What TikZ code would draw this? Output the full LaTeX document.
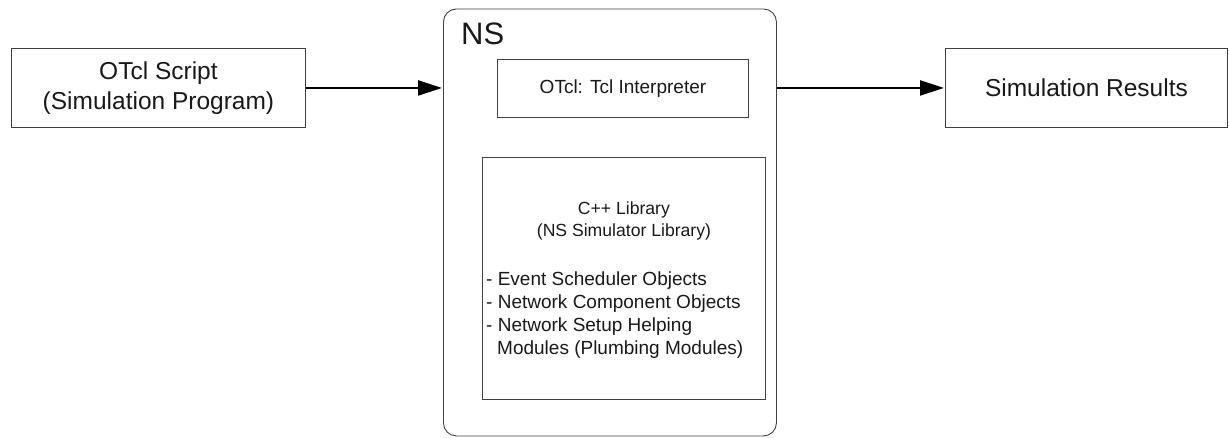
\documentclass[tikz,border=0pt]{standalone}
\usepackage{fontspec}
\setmainfont{Liberation Sans}
\usetikzlibrary{arrows.meta}
\begin{document}
\begin{tikzpicture}[x=1pt,y=-1pt,
  box/.style={draw=black!75,line width=0.9pt,inner sep=0pt},
  conn/.style={draw=black,line width=2.2pt,-{Triangle[length=24pt,width=15pt]},shorten >=1pt},
  txt/.style={text=black!90,inner sep=0pt}]
\useasboundingbox (0,0) rectangle (1229,437);
% outer boxes
\node[box,minimum width=294pt,minimum height=79pt,anchor=north west,
  font=\fontsize{24.5}{30}\selectfont,align=center,text=black!90] (script) at (11,48)
  {OTcl Script\\(Simulation Program)};
\node[box,minimum width=282pt,minimum height=79pt,anchor=north west,
  font=\fontsize{24.5}{30}\selectfont,text=black!90] (results) at (945,48) {Simulation Results};
\node[box,rounded corners=13pt,minimum width=333pt,minimum height=427pt,anchor=north west] (ns) at (443,8.5) {};
\node[txt,anchor=north west,font=\fontsize{31}{34}\selectfont] (nslabel) at (461,23) {NS};
\node[box,minimum width=251pt,minimum height=58pt,anchor=north west,
  font=\fontsize{19}{22}\selectfont,text=black!90] (tcl) at (497,59) {OTcl: Tcl Interpreter};
\node[box,minimum width=283pt,minimum height=242pt,anchor=north west] (cpp) at (482,157) {};
\node[txt,font=\fontsize{17.6}{22}\selectfont,align=center] (cpptitle) at (cpp.center |- 0,221) {C++ Library\\(NS Simulator Library)};
\node[txt,font=\fontsize{19}{22.7}\selectfont,align=left,anchor=north west] (cpplist) at (486,272)
  {- Event Scheduler Objects\\- Network Component Objects\\- Network Setup Helping\\\hspace*{11pt}Modules (Plumbing Modules)};
% connectors
\draw[conn] (script.east) -- (script.east -| ns.west);
\draw[conn] (ns.east |- results.west) -- (results.west);
\end{tikzpicture}
\end{document}
